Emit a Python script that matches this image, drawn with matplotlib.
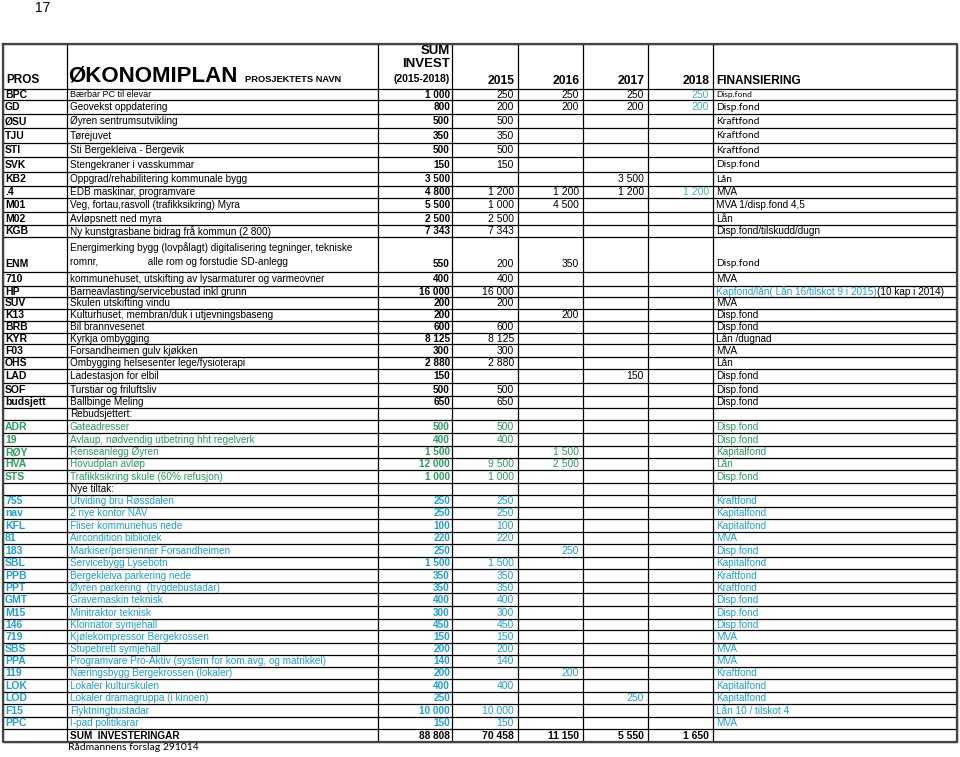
import matplotlib.pyplot as plt

# ---- table data (one entry per body row) ----
codes = ["BPC", "GD", "ØSU", "TJU", "STI", "SVK", "KB2", ".4", "M01", "M02", "KGB",
         "ENM", "710", "HP", "SUV", "K13", "BRB", "KYR", "F03", "OHS", "LAD", "SOF",
         "budsjett", "", "ADR", "19", "RØY", "HVA", "STS", "", "755", "nav", "KFL",
         "81", "183", "SBL", "PPB", "PPT", "GMT", "M15", "146", "719", "SBS", "PPA",
         "119", "LOK", "LOD", "F15", "PPC", ""]

names = ["Bærbar PC til elevar",
         "Geovekst oppdatering",
         "Øyren sentrumsutvikling",
         "Tørejuvet",
         "Sti Bergekleiva - Bergevik",
         "Stengekraner i vasskummar",
         "Oppgrad/rehabilitering kommunale bygg",
         "EDB maskinar, programvare",
         "Veg, fortau,rasvoll (trafikksikring) Myra",
         "Avløpsnett ned myra",
         "Ny kunstgrasbane bidrag frå kommun (2 800)",
         "Energimerking bygg (lovpålagt) digitalisering tegninger, tekniske\n"
         "romnr,                  alle rom og forstudie SD-anlegg",
         "kommunehuset, utskifting av lysarmaturer og varmeovner",
         "Barneavlasting/servicebustad inkl grunn",
         "Skulen utskifting vindu",
         "Kulturhuset, membran/duk i utjevningsbaseng",
         "Bil brannvesenet",
         "Kyrkja ombygging",
         "Forsandheimen gulv kjøkken",
         "Ombygging helsesenter lege/fysioterapi",
         "Ladestasjon for elbil",
         "Turstiar og friluftsliv",
         "Ballbinge Meling",
         "Rebudsjettert:",
         "Gateadresser",
         "Avlaup, nødvendig utbetring hht regelverk",
         "Renseanlegg Øyren",
         "Hovudplan avløp",
         "Trafikksikring skule (60% refusjon)",
         "Nye tiltak:",
         "Utviding bru Røssdalen",
         "2 nye kontor NAV",
         "Fliser kommunehus nede",
         "Aircondition bibliotek",
         "Markiser/persienner Forsandheimen",
         "Servicebygg Lysebotn",
         "Bergekleiva parkering nede",
         "Øyren parkering  (trygdebustadar)",
         "Gravemaskin teknisk",
         "Minitraktor teknisk",
         "Klorinator symjehall",
         "Kjølekompressor Bergekrossen",
         "Stupebrett symjehall",
         "Programvare Pro-Aktiv (system for kom.avg, og matrikkel)",
         "Næringsbygg Bergekrossen (lokaler)",
         "Lokaler kulturskulen",
         "Lokaler dramagruppa (i kinoen)",
         "Flyktningbustadar",
         "I-pad politikarar",
         "SUM  INVESTERINGAR"]

sum_invest = [1000, 800, 500, 350, 500, 150, 3500, 4800, 5500, 2500, 7343,
              550, 400, 16000, 200, 200, 600, 8125, 300, 2880, 150, 500,
              650, None, 500, 400, 1500, 12000, 1000, None, 250, 250, 100,
              220, 250, 1500, 350, 350, 400, 300, 450, 150, 200, 140,
              200, 400, 250, 10000, 150, 88808]

y2015 = [250, 200, 500, 350, 500, 150, None, 1200, 1000, 2500, 7343,
         200, 400, 16000, 200, None, 600, 8125, 300, 2880, None, 500,
         650, None, 500, 400, None, 9500, 1000, None, 250, 250, 100,
         220, None, 1500, 350, 350, 400, 300, 450, 150, 200, 140,
         None, 400, None, 10000, 150, 70458]

y2016 = [250, 200, None, None, None, None, None, 1200, 4500, None, None,
         350, None, None, None, 200, None, None, None, None, None, None,
         None, None, None, None, 1500, 2500, None, None, None, None, None,
         None, 250, None, None, None, None, None, None, None, None, None,
         200, None, None, None, None, 11150]

y2017 = [250, 200, None, None, None, None, 3500, 1200, None, None, None,
         None, None, None, None, None, None, None, None, None, 150, None,
         None, None, None, None, None, None, None, None, None, None, None,
         None, None, None, None, None, None, None, None, None, None, None,
         None, None, 250, None, None, 5550]

y2018 = [250, 200, None, None, None, None, None, 1200, None, None, None,
         None, None, None, None, None, None, None, None, None, None, None,
         None, None, None, None, None, None, None, None, None, None, None,
         None, None, None, None, None, None, None, None, None, None, None,
         None, None, None, None, None, 1650]

financing = ["Disp.fond", "Disp.fond", "Kraftfond", "Kraftfond", "Kraftfond",
             "Disp.fond", "Lån", "MVA", "MVA 1/disp.fond 4,5", "Lån",
             "Disp.fond/tilskudd/dugn", "Disp.fond", "MVA",
             "Kapfond/lån( Lån 16/tilskot 9 i 2015)", "MVA", "Disp.fond",
             "Disp.fond", "Lån /dugnad", "MVA", "Lån", "Disp.fond", "Disp.fond",
             "Disp.fond", "", "Disp.fond", "Disp.fond", "Kapitalfond", "Lån",
             "Disp.fond", "", "Kraftfond", "Kapitalfond", "Kapitalfond", "MVA",
             "Disp.fond", "Kapitalfond", "Kraftfond", "Kraftfond", "Disp.fond",
             "Disp.fond", "Disp.fond", "MVA", "MVA", "MVA", "Kraftfond",
             "Kapitalfond", "Kapitalfond", "Lån 10 / tilskot 4", "MVA", ""]
hp_tail = "(10 kap i 2014)"

header_years = ["2015", "2016", "2017", "2018"]
page_no = "17"
footnote = "Rådmannens forslag 291014"

# ---- layout (pixel coordinates) ----
col_x = [3, 67, 378, 452, 518, 583, 648, 713, 957]
row_y = [44, 89, 100, 114, 128, 143, 157, 172, 186, 198, 212, 225, 237, 272, 286,
         297, 309, 321, 333, 344, 357, 369, 383, 396, 408, 420, 433, 446, 458,
         470, 483, 495, 507, 519, 532, 544, 557, 569, 582, 593, 606, 619, 630,
         643, 655, 667, 679, 692, 704, 717, 729, 742]

# ---- style ----
GREEN = "#2e9b5e"
BLUE = "#22a0cc"
LIGHT = "#4bacc6"
row_color = ["black"] * 24 + [GREEN] * 5 + ["black"] + [BLUE] * 19 + ["black"]
calibri_rows = [0, 1, 2, 3, 4, 5, 6, 11]
plt.rcParams['font.family'] = ['Liberation Sans', 'DejaVu Sans']


def fmt(v):
    return "" if v is None else f"{v:,}".replace(",", " ")


fig = plt.figure(figsize=(9.6, 7.57), dpi=100)
ax = fig.add_axes([0, 0, 1, 1])
ax.set_xlim(0, 960)
ax.set_ylim(757, 0)
ax.axis("off")

# grid lines
ax.hlines(row_y, col_x[0], col_x[-1], color="black", lw=0.9)
ax.vlines(col_x, row_y[0], row_y[-1], color="black", lw=0.9)
ax.plot([col_x[0], col_x[-1], col_x[-1], col_x[0], col_x[0]],
        [row_y[0], row_y[0], row_y[-1], row_y[-1], row_y[0]], color="#444444", lw=1.6)

# header
ax.text(35, 8, page_no, fontsize=10, va="center")
hb = row_y[1] - 5
ax.text(6, hb - 1, "PROS", fontsize=8.5, fontweight="bold", va="baseline")
ax.text(68, hb - 2, "ØKONOMIPLAN", fontsize=16, fontweight="bold", va="baseline")
ax.text(245, hb - 2, "PROSJEKTETS NAVN", fontsize=6.7, fontweight="bold", va="baseline")
ax.text(col_x[3] - 2, 51, "SUM", fontsize=9.5, fontweight="bold", ha="right", va="center")
ax.text(col_x[3] - 2, 64, "INVEST", fontsize=9.5, fontweight="bold", ha="right", va="center")
ax.text(col_x[3] - 2, 79, "(2015-2018)", fontsize=7.5, fontweight="bold", ha="right", va="center")
for k, yr in enumerate(header_years):
    ax.text(col_x[4 + k] - 3, hb, yr, fontsize=8.7, fontweight="bold", ha="right", va="baseline")
ax.text(col_x[7] + 3, hb, "FINANSIERING", fontsize=8.6, fontweight="bold", va="baseline")

# body rows
for i in range(len(codes)):
    top, bot = row_y[i + 1], row_y[i + 2]
    yc = (top + bot) / 2 + 0.3
    yv = yc if bot - top < 20 else bot - 8
    col = row_color[i]
    fs = 7.2
    last = i == len(codes) - 1
    ax.text(5, yv, codes[i], fontsize=fs + 0.3, fontweight="bold", color=col, va="center")
    ncol = "black" if names[i] in ("Rebudsjettert:", "Nye tiltak:") else col
    ax.text(70, yc, names[i], fontsize=6.5 if i == 0 else fs, color=ncol, va="center",
            fontweight="bold" if last else "normal", linespacing=1.45)
    ax.text(col_x[3] - 2, yv, fmt(sum_invest[i]), fontsize=fs, fontweight="bold",
            color=col, ha="right", va="center")
    for k, vals in enumerate([y2015, y2016, y2017, y2018]):
        c = col
        if k == 3 and not last:
            c = LIGHT
        ax.text(col_x[4 + k] - 4, yv, fmt(vals[i]), fontsize=fs + 0.3, color=c,
                ha="right", va="center", fontweight="bold" if last else "normal")
    if i in calibri_rows:
        ff = ["Lato", "DejaVu Sans"]
        ffs = 6.0 if i == 0 else 7.4
    else:
        ff = ["Liberation Sans", "DejaVu Sans"]
        ffs = 7.2
    fcol = BLUE if codes[i] == "HP" else col
    t = ax.text(col_x[7] + 3, yv, financing[i], fontsize=ffs, color=fcol, va="center", family=ff)
    if codes[i] == "HP":
        ax.annotate(hp_tail, xy=(1, 0.5), xycoords=t, fontsize=ffs, color="black", va="center")

ax.text(68, 748, footnote, fontsize=7.5, family=["Lato", "DejaVu Sans"], va="center")

fig.savefig("out.png", dpi=100)
